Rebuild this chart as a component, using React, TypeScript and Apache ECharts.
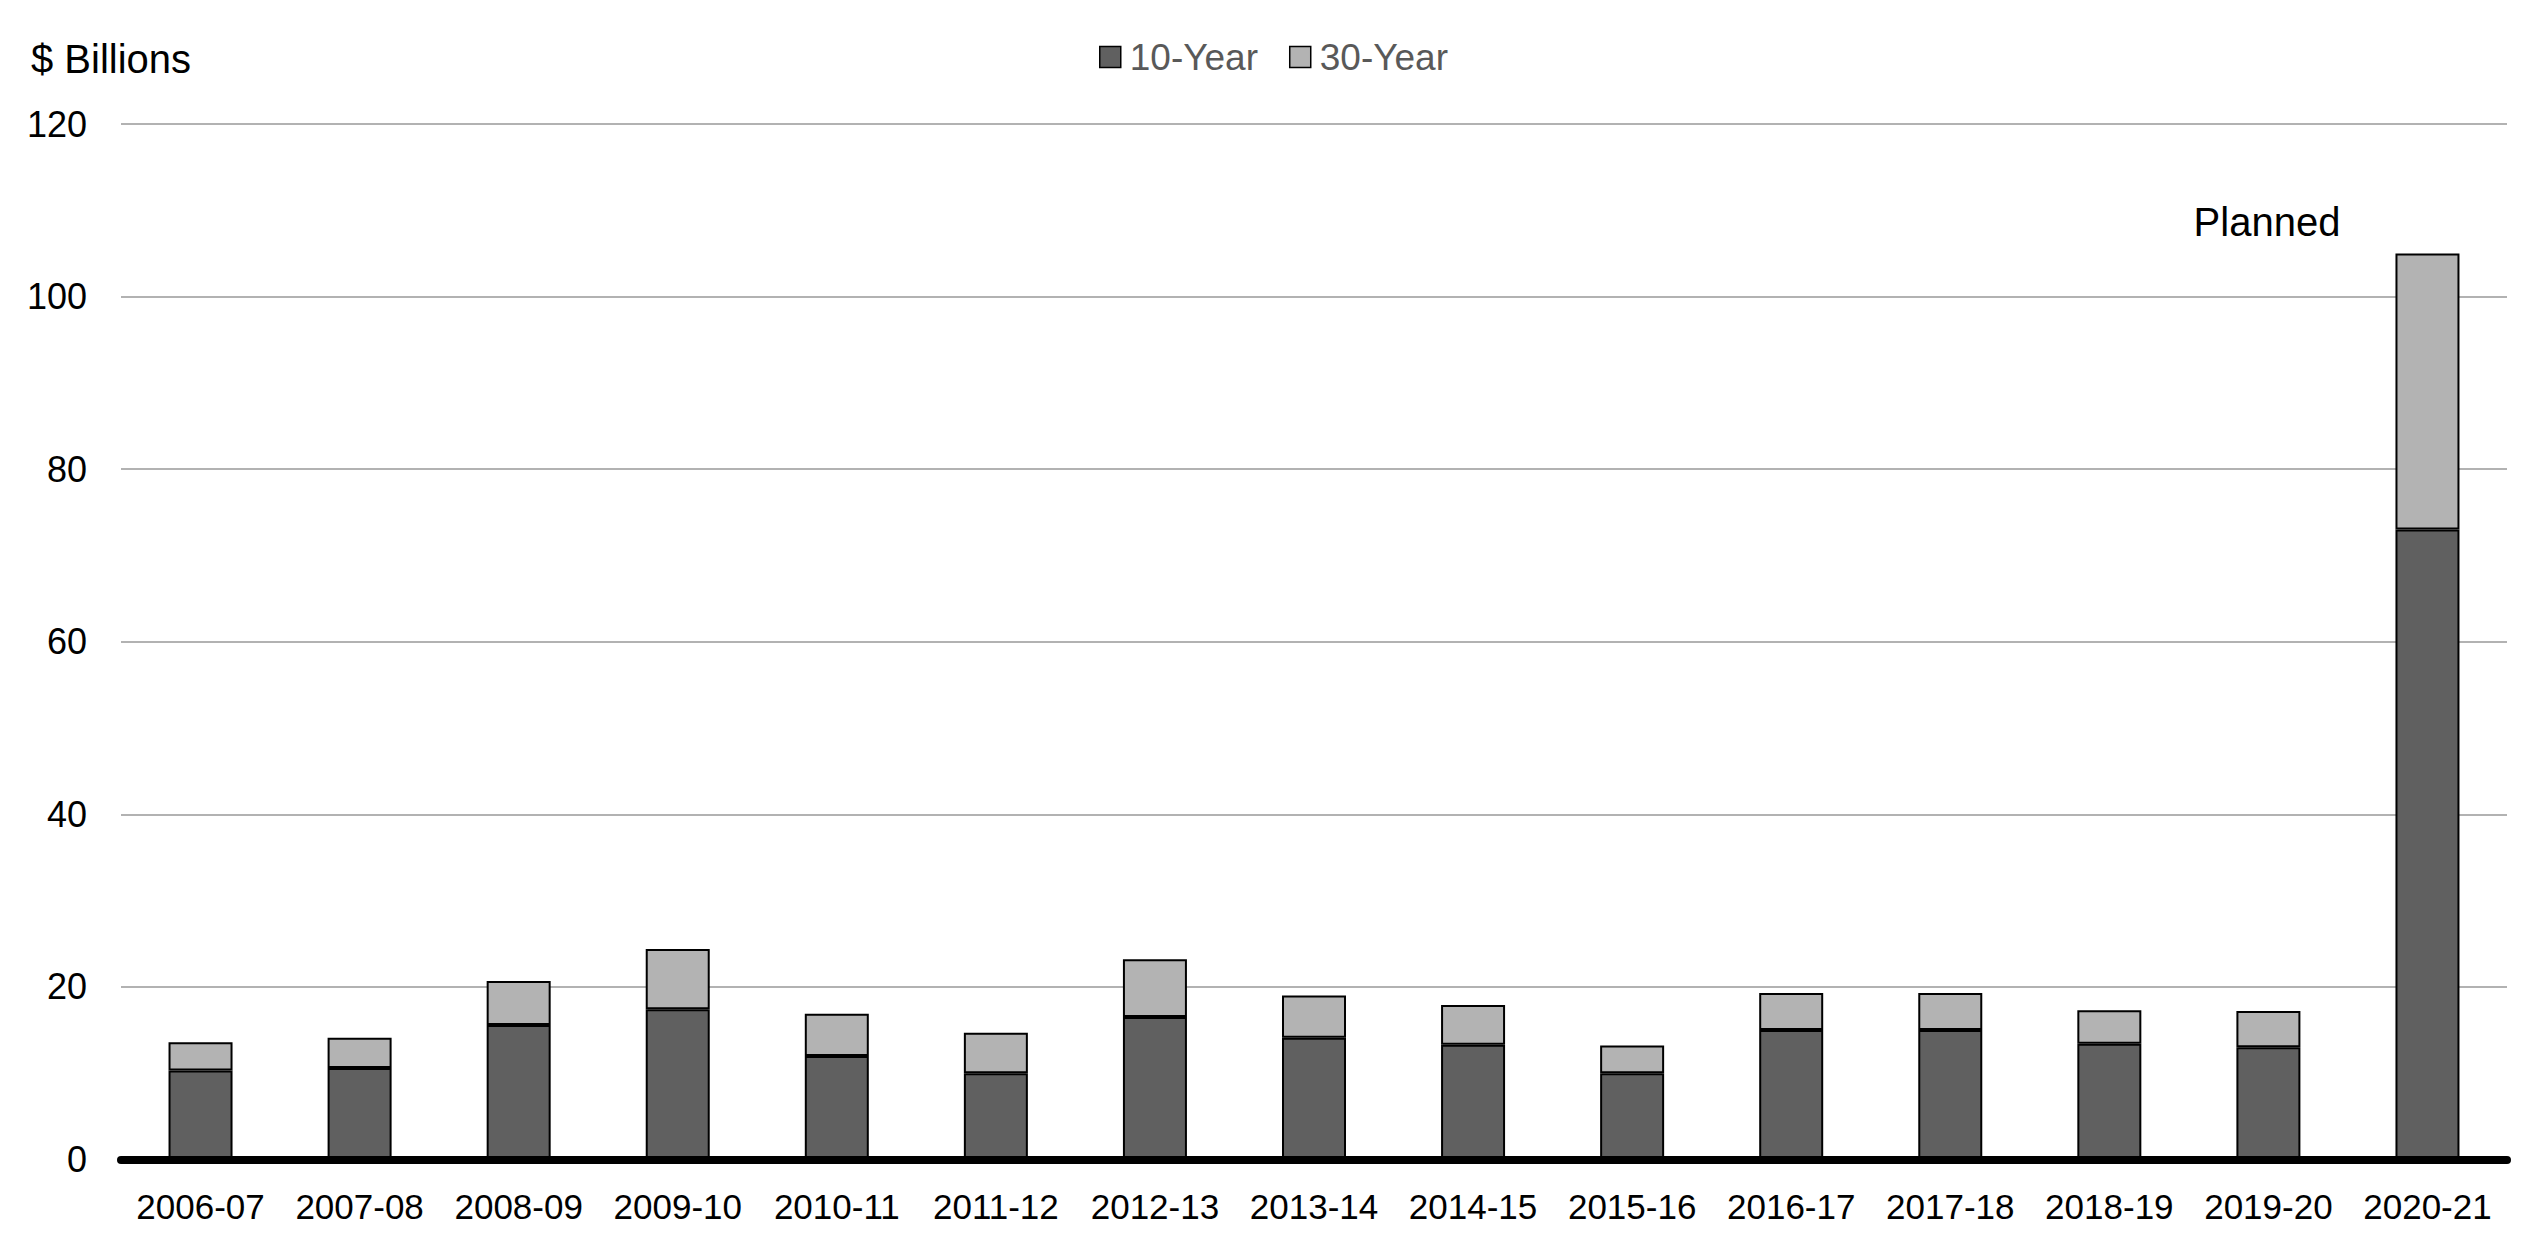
import React, { useEffect, useRef } from "react";
import * as echarts from "echarts";

const categories = [
  "2006-07", "2007-08", "2008-09", "2009-10", "2010-11", "2011-12", "2012-13", "2013-14",
  "2014-15", "2015-16", "2016-17", "2017-18", "2018-19", "2019-20", "2020-21",
];
const tenYear = [10.3, 10.6, 15.6, 17.4, 12.0, 10.0, 16.5, 14.1, 13.3, 10.0, 15.0, 15.0, 13.4, 13.0, 73.0];
const thirtyYear = [3.3, 3.5, 5.1, 7.0, 4.9, 4.7, 6.7, 4.9, 4.6, 3.2, 4.3, 4.3, 3.9, 4.2, 32.0];
const yMin = 0;
const yMax = 120;
const yStep = 20;
const unitLabel = "$ Billions";
const noteLabel = "Planned";

const FONT = "'Liberation Sans', Arial, sans-serif";

export default function App() {
  const ref = useRef<HTMLDivElement>(null);
  useEffect(() => {
    if (!ref.current) return;
    const chart = echarts.init(ref.current, undefined, { renderer: "svg" });
    chart.setOption({
      animation: false,
      backgroundColor: "#ffffff",
      textStyle: { fontFamily: FONT },
      legend: {
        left: 1099,
        top: 37,
        padding: 0,
        itemWidth: 21,
        itemHeight: 21,
        itemGap: 31,
        icon: "rect",
        selectedMode: false,
        textStyle: { color: "#595959", fontSize: 37, lineHeight: 40, fontFamily: FONT, padding: [0, 0, 0, 4] },
        data: [
          { name: "10-Year", itemStyle: { color: "#606060", borderColor: "#000", borderWidth: 1.5 } },
          { name: "30-Year", itemStyle: { color: "#b3b3b3", borderColor: "#000", borderWidth: 1.5 } },
        ],
      },
      grid: { left: 121, right: 35, top: 124, bottom: 80.5, containLabel: false },
      xAxis: {
        type: "category",
        data: categories,
        z: 5,
        axisLine: { show: true, lineStyle: { color: "#000", width: 8 } },
        axisTick: { show: false },
        axisLabel: { color: "#000", fontSize: 35, fontFamily: FONT, margin: 29, interval: 0 },
      },
      yAxis: {
        type: "value",
        min: yMin,
        max: yMax,
        interval: yStep,
        axisLine: { show: false },
        axisTick: { show: false },
        axisLabel: { color: "#000", fontSize: 36, fontFamily: FONT, margin: 34 },
        splitLine: { lineStyle: { color: "#999", width: 1.5 } },
      },
      graphic: [
        {
          type: "text",
          left: 31,
          top: 39,
          style: { text: unitLabel, fill: "#000", font: `40px ${FONT}` },
        },
        {
          type: "text",
          x: 2267,
          y: 222,
          style: {
            text: noteLabel,
            fill: "#000",
            font: `40px ${FONT}`,
            textAlign: "center",
            textVerticalAlign: "middle",
          },
        },
      ],
      series: [
        {
          name: "10-Year",
          type: "bar",
          stack: "total",
          barWidth: 64,
          data: tenYear,
          itemStyle: { color: "#606060", borderColor: "#000", borderWidth: 2 },
        },
        {
          name: "30-Year",
          type: "bar",
          stack: "total",
          barWidth: 64,
          data: thirtyYear,
          itemStyle: { color: "#b3b3b3", borderColor: "#000", borderWidth: 2 },
        },
      ],
    });
    return () => chart.dispose();
  }, []);
  return (
    <div
      ref={ref}
      style={{ position: "fixed", left: 0, top: 0, width: 2542, height: 1240, background: "#fff" }}
    />
  );
}
